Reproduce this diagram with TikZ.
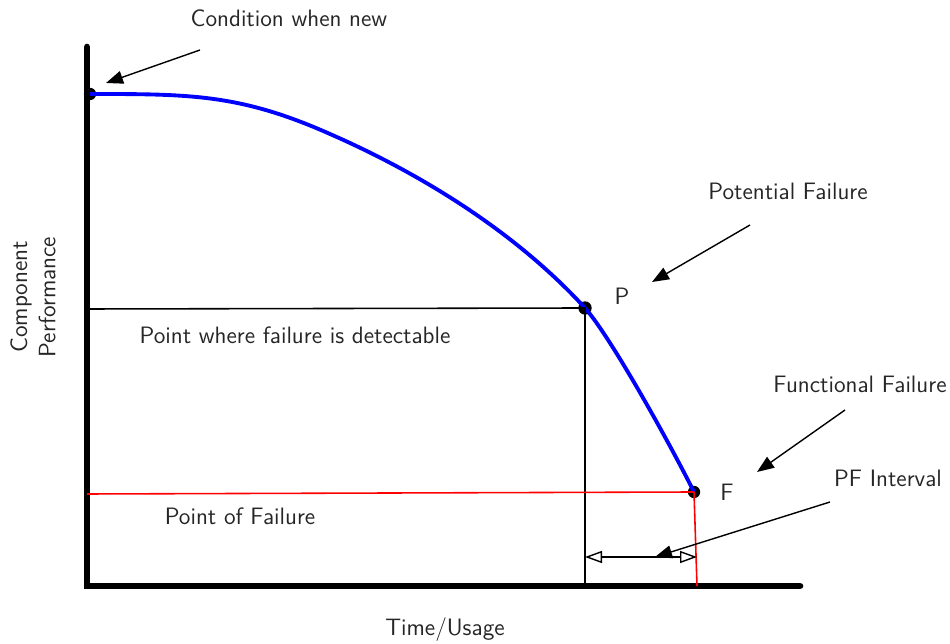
\documentclass[tikz,border=0pt]{standalone}
\usepackage{tikz}
\usetikzlibrary{arrows.meta,positioning,calc}
\tikzset{
  axisline/.style={line width=3.8pt, line cap=round},
  curveline/.style={draw=blue, line width=2.2pt},
  markdot/.style={circle, fill=black, inner sep=0pt, minimum size=7pt},
  callarr/.style={-{Triangle[length=3.4mm,width=2.6mm]}, line width=0.8pt},
  intarr/.style={{Triangle[open,length=3.4mm,width=2.4mm]}-{Triangle[open,length=3.4mm,width=2.4mm]}, line width=0.8pt},
  lab/.style={font=\sffamily\fontsize{13.5}{16}\selectfont, text=black!85, align=center, inner sep=1pt},
}
\begin{document}
\begin{tikzpicture}[x=0.02cm,y=-0.02cm]
\useasboundingbox (0,0) rectangle (950,644);
% axes
\coordinate (ytop) at (87,47);
\coordinate (orig) at (87,586);
\coordinate (xend) at (800,586);
\draw[axisline] (ytop) -- (orig) -- (xend);
% points on the curve
\node[markdot] (new) at (90,94) {};
\node[markdot, minimum size=7.6pt] (P) at (585,308) {};
\node[markdot] (F) at (694,492) {};
\coordinate (knee) at (330,134);
\draw[curveline] (new.center) .. controls (190,94) and (240,94) .. (knee)
  .. controls (410,169) and (510,226) .. (P.center)
  .. controls (610,336) and (669,442) .. (F.center);
% detection level
\coordinate (pleft) at (87,309);
\coordinate (pbot) at (585,586);
\draw[line width=0.9pt] (pleft) -- (P.center) -- (pbot);
% failure level
\coordinate (fleft) at (87,494);
\coordinate (fbot) at (697,586);
\draw[red, line width=0.9pt] (fleft) -- (F.center);
\draw[red, line width=0.9pt] (F.center) -- (fbot);
% PF interval
\coordinate (ia) at (585,557);
\coordinate (ib) at (697,557);
\draw[intarr] (ia) -- (ib);
% labels
\node[lab] (lnew) at (289,18) {Condition when new};
\node[lab] (lpot) at (788,191) {Potential Failure};
\node[lab] (lP) at (622,296) {P};
\node[lab] (ldet) at (295,335) {Point where failure is detectable};
\node[lab] (lfun) at (860,384) {Functional Failure};
\node[lab] (lF) at (727,492) {F};
\node[lab] (lint) at (888,478) {PF Interval};
\node[lab] (lfail) at (240,516) {Point of Failure};
\node[lab] (ltime) at (445,630) {Time/Usage};
\node[lab, rotate=90] (lperf) at (33,297) {Component\\Performance};
% call-out arrows
\coordinate (anew) at (200,50);
\coordinate (apot) at (750,225);
\coordinate (afun) at (845,410);
\coordinate (aint) at (830,502);
\draw[callarr] (anew) -- (106,83);
\draw[callarr] (apot) -- (652,282);
\draw[callarr] (afun) -- (757,472);
\draw[callarr] (aint) -- (655,557);
\end{tikzpicture}
\end{document}
